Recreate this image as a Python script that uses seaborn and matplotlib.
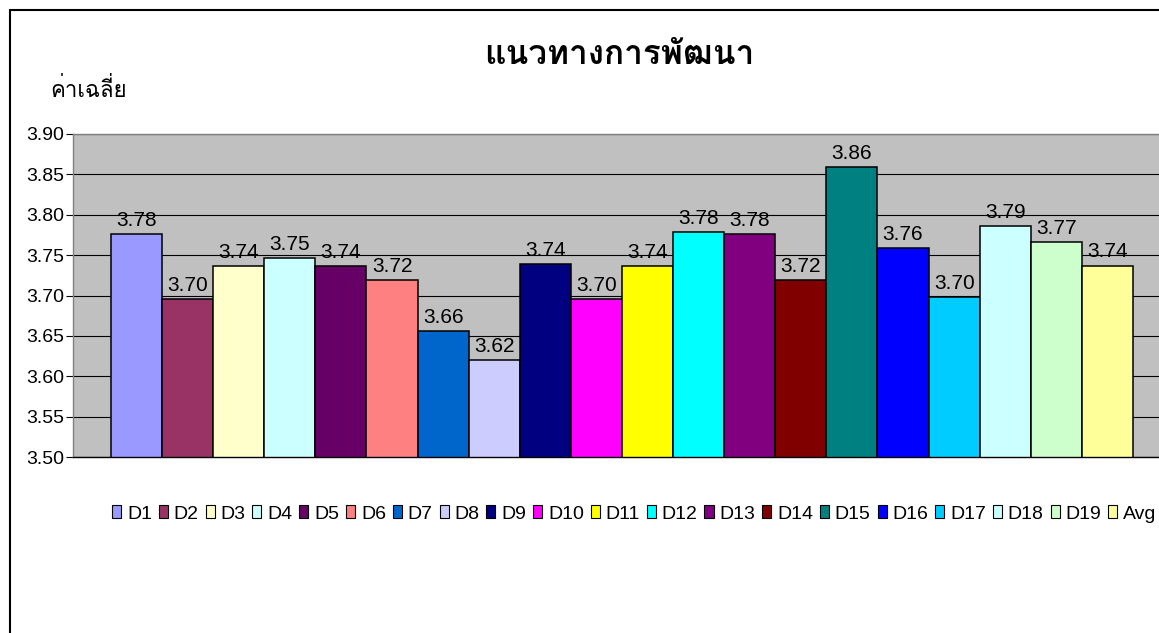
import matplotlib
matplotlib.use('Agg')
import matplotlib.pyplot as plt
from matplotlib.patches import Patch, Rectangle
import pandas as pd
import seaborn as sns

# values (labels show 2 decimals)
items = ['D1', 'D2', 'D3', 'D4', 'D5', 'D6', 'D7', 'D8', 'D9', 'D10',
         'D11', 'D12', 'D13', 'D14', 'D15', 'D16', 'D17', 'D18', 'D19', 'Avg']
scores = [3.776, 3.696, 3.736, 3.746, 3.736, 3.719, 3.656, 3.620, 3.739, 3.696,
          3.736, 3.779, 3.776, 3.719, 3.859, 3.759, 3.698, 3.786, 3.766, 3.737]
colors = ['#9999FF', '#993366', '#FFFFCC', '#CCFFFF', '#660066', '#FF8080',
          '#0066CC', '#CCCCFF', '#000080', '#FF00FF', '#FFFF00', '#00FFFF',
          '#800080', '#800000', '#008080', '#0000FF', '#00CCFF', '#CCFFFF',
          '#CCFFCC', '#FFFF99']
yticks = [3.50, 3.55, 3.60, 3.65, 3.70, 3.75, 3.80, 3.85, 3.90]
title = 'แนวทางการพัฒนา'
ylabel = 'ค่าเฉลี่ย'

df = pd.DataFrame({'item': items, 'score': scores})

sns.set_style('white')
plt.rcParams['font.family'] = ['Liberation Sans', 'Loma', 'DejaVu Sans']
plt.rcParams['text.color'] = 'black'
plt.rcParams['ytick.color'] = 'black'
plt.rcParams['ytick.labelcolor'] = 'black'

W, H = 1159, 633
fig = plt.figure(figsize=(W / 100, H / 100), dpi=100)
ax = fig.add_axes([73 / W, 1 - 457 / H, (1171 - 73) / W, (457 - 134) / H])
ax.set_facecolor('#C0C0C0')

sns.barplot(data=df, x='item', y='score', hue='item', palette=colors, saturation=1,
            width=1, edgecolor='black', linewidth=1.1, legend=False, ax=ax)

for cont in ax.containers:
    ax.bar_label(cont, fmt='%.2f', padding=3, fontsize=15, color='black')

ax.set_ylim(3.5, 3.9)
ax.set_xlim(-0.5 - 38 / 51.1, 19.5 + 38 / 51.1)
ax.set_yticks(yticks)
ax.set_yticklabels(['%.2f' % t for t in yticks], fontsize=14)
ax.tick_params(axis='y', direction='out', length=5, width=0.8, pad=1.5, left=True, color='black')
ax.set_xticks([])
ax.set_xlabel('')
ax.set_ylabel('')

ax.set_axisbelow(True)
ax.yaxis.grid(True, color='black', linewidth=0.8)
ax.xaxis.grid(False)
for s in ['top', 'left']:
    ax.spines[s].set_color('#808080')
    ax.spines[s].set_linewidth(1.0)
ax.spines['bottom'].set_color('black')
ax.spines['bottom'].set_linewidth(1.0)
ax.spines['right'].set_visible(False)

fig.text(619 / W, 1 - 55 / H, title, ha='center', va='center', fontsize=24,
         fontweight='bold', family=['Loma', 'Noto Sans Thai Looped', 'DejaVu Sans'])
fig.text(50 / W, 1 - 90 / H, ylabel, ha='left', va='center', fontsize=16,
         family=['Loma', 'Noto Sans Thai Looped', 'DejaVu Sans'])

handles = [Patch(facecolor=c, edgecolor='black', linewidth=0.8) for c in colors]
fig.legend(handles, items, loc='center left', bbox_to_anchor=(112 / W, 1 - 514 / H),
           ncol=len(items), frameon=False, fontsize=14, borderpad=0,
           handlelength=0.47, handleheight=0.62, handletextpad=0.3,
           columnspacing=0.35, borderaxespad=0)

# outer chart border (cut off at right and bottom like the original)
fig.patches.append(Rectangle((9.5 / W, -0.1), 1.5, 1 - 10 / H + 0.1, transform=fig.transFigure,
                             fill=False, edgecolor='black', linewidth=1.5))

fig.savefig('out.png', dpi=100)
